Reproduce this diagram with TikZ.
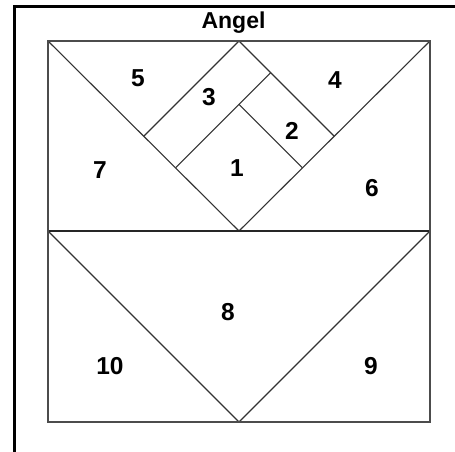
\documentclass[tikz,border=0pt]{standalone}
\usepackage{fontspec}
\setmainfont{Liberation Sans}
\usetikzlibrary{calc}
\begin{document}
\begin{tikzpicture}[x=1pt,y=-1pt,
  frame/.style={line width=3pt,black},
  border/.style={line width=2pt,draw=black!70},
  seam/.style={line width=1.1pt,draw=black!80},
  midline/.style={line width=2pt,draw=black!85},
  num/.style={font=\fontsize{24.5}{24.5}\bfseries\selectfont,inner sep=0pt},
  ttl/.style={font=\fontsize{23}{23}\bfseries\selectfont,inner sep=0pt}]
\useasboundingbox (0,0) rectangle (455,452);
\fill[white] (0,0) rectangle (455,452);
% outer frame (only left and top visible)
\draw[frame] (14.5,460) -- (14.5,6.5) -- (460,6.5);
% key points
\coordinate (TL) at (48,41);
\coordinate (TR) at (430,41);
\coordinate (ML) at (48,231);
\coordinate (MR) at (430,231);
\coordinate (BL) at (48,422);
\coordinate (BR) at (430,422);
\coordinate (TM) at (239,41);
\coordinate (MM) at (239,231);
\coordinate (BM) at (239,422);
\coordinate (DL) at (144,136);
\coordinate (DR) at (334,136);
\coordinate (C) at (239,104.3);
% top half seams
\draw[seam] (TL) -- (MM) -- (TR);
\draw[seam] (DL) -- (TM) -- (DR);
% strip 3 and strip 2 separators
\draw[seam] ($(MM)!0.6667!(DL)$) -- ($(TM)!0.3333!(DR)$);
\draw[seam] (C) -- ($(MM)!0.6667!(DR)$);
% bottom half seams
\draw[seam] (ML) -- (BM) -- (MR);
% middle line
\draw[midline] (ML) -- (MR);
% square border
\draw[border] (TL) rectangle (BR);
% title
\node[ttl] (title) at (233.5,23) {Angel};
% numbers
\node[num] (n1) at (237,168) {1};
\node[num] (n2) at (292,131) {2};
\node[num] (n3) at (209,97) {3};
\node[num] (n4) at (335,80) {4};
\node[num] (n5) at (138,78) {5};
\node[num] (n6) at (372,188) {6};
\node[num] (n7) at (100,170) {7};
\node[num] (n8) at (228,312) {8};
\node[num] (n9) at (371,366) {9};
\node[num] (n10) at (110,366) {10};
\end{tikzpicture}
\end{document}
